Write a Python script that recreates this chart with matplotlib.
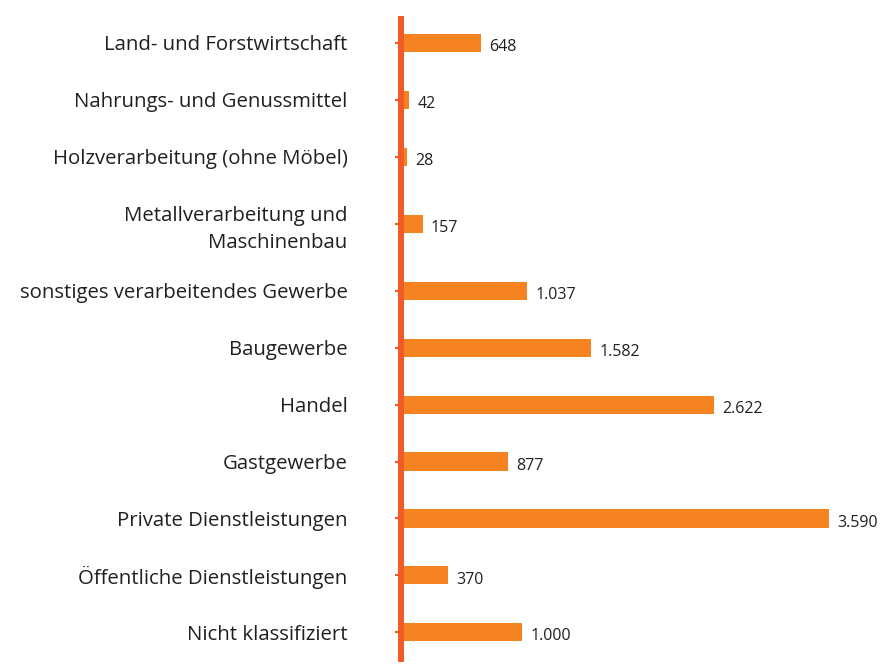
"""
Horizontal bar chart: employees by economic sector.
"""

import matplotlib.pyplot as plt

# Data
categories = [
    "Land- und Forstwirtschaft",
    "Nahrungs- und Genussmittel",
    "Holzverarbeitung (ohne Möbel)",
    "Metallverarbeitung und\nMaschinenbau",
    "sonstiges verarbeitendes Gewerbe",
    "Baugewerbe",
    "Handel",
    "Gastgewerbe",
    "Private Dienstleistungen",
    "Öffentliche Dienstleistungen",
    "Nicht klassifiziert",
]
values = [648, 42, 28, 157, 1037, 1582, 2622, 877, 3590, 370, 1000]
value_labels = ["648", "42", "28", "157", "1.037", "1.582", "2.622", "877",
                "3.590", "370", "1.000"]

BAR_COLOR = "#F58420"
AXIS_COLOR = "#F15A24"
TEXT_COLOR = "#231F20"
FONT = ["Open Sans", "DejaVu Sans"]


def row_positions(labels, extra=0.18):
    """Row centres, with a little extra room next to wrapped labels."""
    pos = [0.0]
    for prev, cur in zip(labels[:-1], labels[1:]):
        step = 1.0
        if "\n" in prev or "\n" in cur:
            step += extra
        pos.append(pos[-1] + step)
    return pos


def main() -> None:
    plt.rcParams["font.family"] = FONT
    W, H = 892, 671
    fig = plt.figure(figsize=(W / 100, H / 100), dpi=100)

    # axes in pixel terms: data 0 at x=404, top 19, bottom 659
    left_px, right_px = 404, 892
    top_px, bot_px = 19, 659
    ax = fig.add_axes([left_px / W, 1 - bot_px / H,
                       (right_px - left_px) / W, (bot_px - top_px) / H])

    y = row_positions(categories)
    ax.barh(y, values, height=0.32, color=BAR_COLOR, zorder=2)

    xmax = 3590 * (right_px - left_px) / (829 - left_px)
    ax.set_xlim(0, xmax)
    ax.set_ylim(y[-1] + 0.47, -0.42)

    for yi, v, lab in zip(y, values, value_labels):
        ax.annotate(lab, (v, yi), xytext=(6, -3), textcoords="offset points",
                    ha="left", va="center", fontsize=11.5, color=TEXT_COLOR)

    ax.set_yticks(y)
    ax.set_yticklabels(categories)
    ax.set_xticks([])

    for side in ["top", "right", "bottom"]:
        ax.spines[side].set_visible(False)
    ax.spines["left"].set_color(AXIS_COLOR)
    ax.spines["left"].set_linewidth(4.3)
    ax.spines["left"].set_position(("outward", 2.2))
    ax.tick_params(axis="y", length=4.5, width=1.5, color=AXIS_COLOR,
                   pad=34, direction="out", labelsize=14.7,
                   labelcolor=TEXT_COLOR)
    for t in ax.get_yticklabels():
        t.set_va("center_baseline")
        t.set_linespacing(1.45)

    fig.savefig("out.png", dpi=100)


if __name__ == "__main__":
    main()
